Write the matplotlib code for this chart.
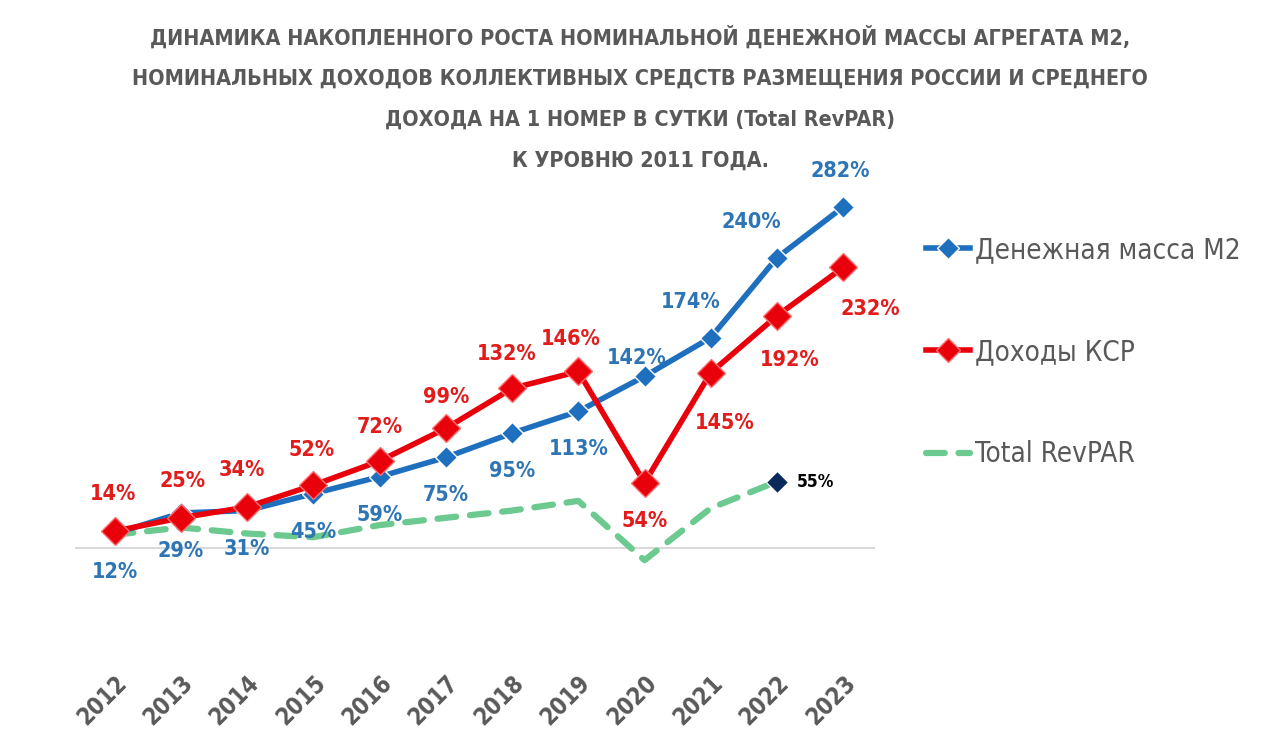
import numpy as np
import matplotlib
matplotlib.use("Agg")
import matplotlib.pyplot as plt
from matplotlib.lines import Line2D

# данные
years = [2012, 2013, 2014, 2015, 2016, 2017, 2018, 2019, 2020, 2021, 2022, 2023]
m2 = [12, 29, 31, 45, 59, 75, 95, 113, 142, 174, 240, 282]
ksr = [14, 25, 34, 52, 72, 99, 132, 146, 54, 145, 192, 232]
revpar_years = [2012, 2013, 2014, 2015, 2016, 2017, 2018, 2019, 2020, 2021, 2022]
revpar = [11, 17, 12, 9, 19, 25, 31, 39, -10, 33, 55]

title = ("ДИНАМИКА НАКОПЛЕННОГО РОСТА НОМИНАЛЬНОЙ ДЕНЕЖНОЙ МАССЫ АГРЕГАТА М2,\n"
         "НОМИНАЛЬНЫХ ДОХОДОВ КОЛЛЕКТИВНЫХ СРЕДСТВ РАЗМЕЩЕНИЯ РОССИИ И СРЕДНЕГО\n"
         "ДОХОДА НА 1 НОМЕР В СУТКИ (Total RevPAR)\n"
         "К УРОВНЮ 2011 ГОДА.")

# смещения подписей (в пикселях)
m2_off = [(0, -38), (0, -38), (0, -38), (0, -38), (0, -38), (0, -38), (0, -38),
          (0, -38), (-8, 18), (-20, 36), (-26, 36), (-3, 36)]
ksr_off = [(-2, 37), (2, 37), (-5, 37), (-2, 35), (0, 34), (0, 31), (-5, 34),
           (-8, 32), (0, -38), (14, -50), (13, -44), (27, -42)]

BLUE = "#1F6FBF"
RED = "#E8000B"
GREEN = "#6CC98F"
GREY = "#595959"

plt.rcParams['font.family'] = ['DejaVu Sans']
plt.rcParams['font.stretch'] = 'condensed'
FS = 'condensed'

fig = plt.figure(figsize=(12.8, 7.46), dpi=100)
ax = fig.add_axes([75 / 1280, 106 / 746, 800 / 1280, 450 / 746])

ax.axhline(0, color="#D9D9D9", lw=1.5, zorder=1)

ax.plot(revpar_years, revpar, color=GREEN, lw=4.5, ls=(0, (3, 2.2)),
        dash_capstyle='round', zorder=2)
ax.plot(revpar_years[-1], revpar[-1], marker='D', color="#0B2A5B", ms=11,
        mec='white', mew=0.8, zorder=5)
ax.annotate(f"{revpar[-1]}%", (revpar_years[-1], revpar[-1]), xytext=(20, 0),
            textcoords='offset pixels', ha='left', va='center', fontsize=12.5,
            fontweight='bold', fontstretch=FS, color='black')

ax.plot(years, m2, color=BLUE, lw=4, marker='D', ms=11, mec='white', mew=1,
        zorder=3)
ax.plot(years, ksr, color=RED, lw=4, marker='D', ms=14.5, mec='#FF7070', mew=1,
        zorder=4)

for x, y, (dx, dy) in zip(years, m2, m2_off):
    ax.annotate(f"{y}%", (x, y), xytext=(dx, dy), textcoords='offset pixels',
                ha='center', va='center', fontsize=15.5, fontweight='bold',
                fontstretch=FS, color="#2E75B6")
for x, y, (dx, dy) in zip(years, ksr, ksr_off):
    ax.annotate(f"{y}%", (x, y), xytext=(dx, dy), textcoords='offset pixels',
                ha='center', va='center', fontsize=15.5, fontweight='bold',
                fontstretch=FS, color="#E21B1B")

ax.set_xlim(2011.4, 2023.48)
ax.set_ylim(-76, 296)
ax.set_xticks(years)
ax.set_xticklabels([str(y) for y in years], rotation=45, ha='right',
                   rotation_mode='anchor', fontsize=17, fontweight='bold',
                   fontstretch=FS, color=GREY)
ax.tick_params(axis='x', length=0, pad=22)
ax.set_yticks([])
for s in ax.spines.values():
    s.set_visible(False)

fig.text(0.5, 1 - 25 / 746, title, ha='center', va='top', fontsize=15.5,
         fontweight='bold', fontstretch=FS, color=GREY, linespacing=2.3)

handles = [
    Line2D([], [], color=BLUE, lw=4, marker='D', ms=11, mec='white', mew=1),
    Line2D([], [], color=RED, lw=4, marker='D', ms=12, mec='#FF7070', mew=1),
    Line2D([], [], color=GREEN, lw=4.5, ls=(0, (3, 2.2)), dash_capstyle='round'),
]
labels = ["Денежная масса М2", "Доходы КСР", "Total RevPAR"]
leg = fig.legend(handles, labels, loc='upper left',
                 bbox_to_anchor=(901 / 1280, 1 - 211 / 746), frameon=False,
                 handlelength=1.6, handletextpad=0.15, labelspacing=2.67,
                 prop={'size': 20, 'stretch': FS})
for t in leg.get_texts():
    t.set_color(GREY)

fig.savefig("out.png", dpi=100)
